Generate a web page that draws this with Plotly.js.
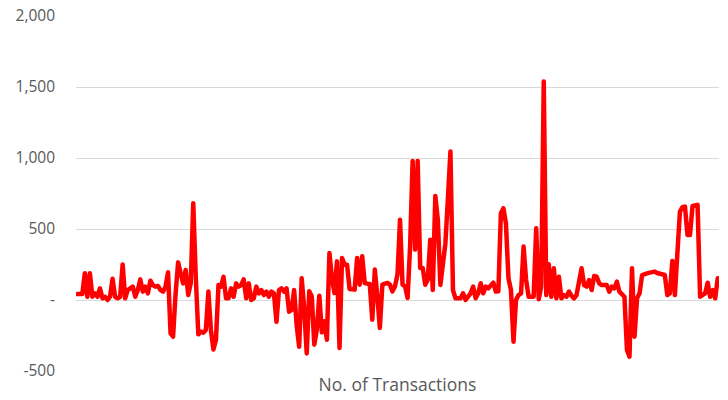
<!DOCTYPE html>
<html>
<head>
<meta charset="utf-8">
<script src="https://cdn.plot.ly/plotly-3.0.1.min.js"></script>
<style>
html,body{margin:0;padding:0;background:#fff;}
#chart{width:728px;height:400px;}
.scatterlayer path.js-line{stroke-linejoin:round;stroke-linecap:round;}
</style>
</head>
<body>
<div id="chart"></div>
<script>
// Series values, in order
const segA = [42,42,42,188,23,188,23,47,23,82,
  12,23,0,23,150,23,12,23,250,12,
  70,82,94,23,70,145,59,94,47,136,
  105,94,99,70,59,94,195,-235,-258,47,
  265,188,117,211,35,117,681];
const segB = [164,-242,-223,-230,-211,59,-211,-348,-282,105,
  94,164,12,12,82,23,117,94,105,145,
  12,117,0,12,94,47,70,35,59,23,
  59,47,-153,70,82,59,82,-82,-70,70,
  -176,-329,153,-59,-376];
const segC = [61,26,-315,-209,30,-228,-150,-280,331,155,
  49,272,-338,296,249,249,78,75,73,296,
  108,308,120,115,113,-139,214,26,-197,108,
  115,120,108,61,96,179,566,108,96,14,
  378,978,355,978,226,226,108,143,425];
const segD = [70,733,564,106,235,400,720,1046,70,12,
  12,12,47,0,23,47,94,12,47,118,
  47,94,82,100,122,59,62,611,646,540,
  153,70,-294,0,35,47,376,141,23,23,
  23,505,5,94,1539];
const segE = [35,251,23,223,12,164,12,35,23,59,
  30,12,35,117,223,105,94,141,70,169,
  164,117,105,105,105,59,94,82,129,59,
  35,23,-352,-399,223,-258,12,47,176,185,
  188,193,198,200,190,183,183,176,35];
const segF = [47,275,35,330,623,653,658,458,458,663,
  665,670,23,40,47,122,23,70,12,153];

const values = [].concat(segA, segB, segC, segD, segE, segF);
const transactions = values.map((v, i) => i + 1);

const yTickVals = [-500, 0, 500, 1000, 1500, 2000];
const yTickText = ['-500', '-', '500', '1,000', '1,500', '2,000'];
const xTitle = 'No. of Transactions';

const trace = {
  x: transactions,
  y: values,
  type: 'scatter',
  mode: 'lines',
  line: {color: '#ff0000', width: 4.5},
  hoverinfo: 'none'
};

const font = '"Open Sans", "Liberation Sans", sans-serif';

const layout = {
  width: 728,
  height: 400,
  margin: {l: 76, r: 9, t: 16, b: 29, pad: 0},
  paper_bgcolor: '#ffffff',
  plot_bgcolor: '#ffffff',
  showlegend: false,
  font: {family: font, color: '#595959', size: 15},
  xaxis: {
    range: [0.5, transactions.length + 0.5],
    showgrid: false,
    zeroline: false,
    showline: false,
    showticklabels: false,
    ticks: '',
    fixedrange: true,
    automargin: false,
    title: {text: xTitle, font: {family: font, size: 17.5, color: '#595959'}, standoff: 7}
  },
  yaxis: {
    range: [-500, 2000],
    tickvals: yTickVals,
    ticktext: yTickText,
    showgrid: true,
    gridcolor: '#d9d9d9',
    gridwidth: 1,
    zeroline: false,
    showline: false,
    ticks: '',
    ticklabelstandoff: 20,
    tickfont: {family: font, size: 15.5, color: '#595959'},
    fixedrange: true
  }
};

Plotly.newPlot('chart', [trace], layout, {staticPlot: true, displayModeBar: false});
</script>
</body>
</html>
